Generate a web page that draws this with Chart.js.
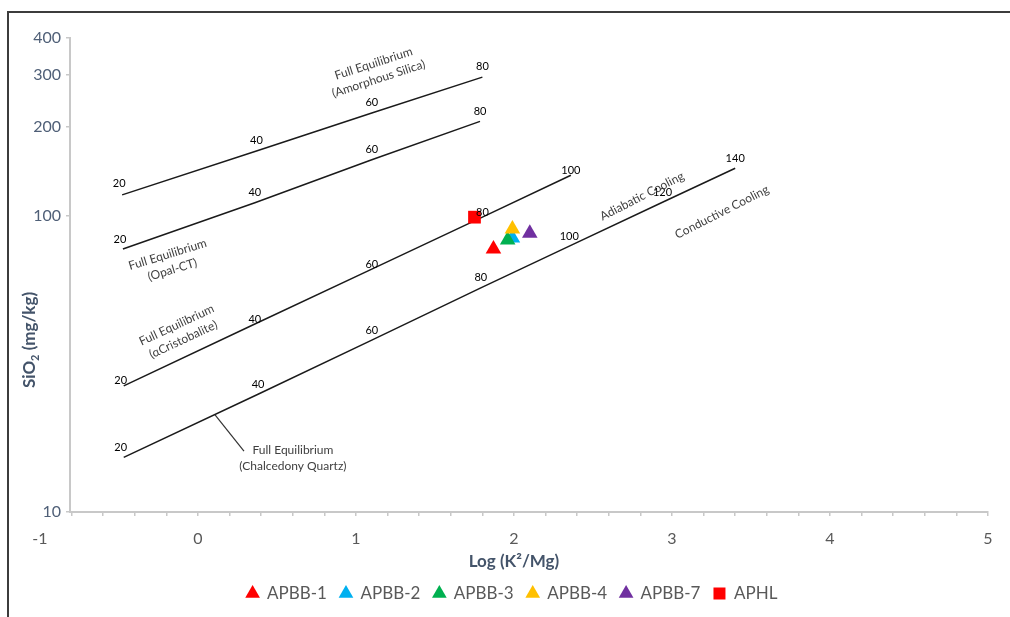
<!DOCTYPE html>
<html>
<head>
<meta charset="utf-8">
<script src="https://cdn.jsdelivr.net/npm/chart.js@4.4.0/dist/chart.umd.min.js"></script>
<style>
  html, body { margin: 0; padding: 0; background: #fff; }
</style>
</head>
<body>
<canvas id="grafico" width="1010" height="617"></canvas>
<script>
// === DATOS ===
// curvas de equilibrio: temperatura (°C), log(K2/Mg), SiO2 (mg/kg)
const amorfoT = [20, 40, 60, 80];
const amorfoX = [-0.48, 0.37, 1.10, 1.80];
const amorfoY = [118, 166, 223, 295];

const opalT = [20, 40, 60, 80];
const opalX = [-0.475, 0.36, 1.10, 1.785];
const opalY = [77.4, 111, 155, 209];

const cristoT = [20, 40, 60, 80, 100];
const cristoX = [-0.47, 0.36, 1.10, 1.80, 2.36];
const cristoY = [26.7, 43.2, 66.2, 99.2, 137.5];

const calceT = [20, 40, 60, 80, 100, 120, 140];
const calceX = [-0.47, 0.38, 1.10, 1.79, 2.35, 2.94, 3.40];
const calceY = [15.3, 25.0, 38.1, 57.2, 79.2, 111.4, 145.2];

// muestras
const muestras = ['APBB-1', 'APBB-2', 'APBB-3', 'APBB-4', 'APBB-7', 'APHL'];
const muestraX = [1.87, 1.99, 1.96, 1.99, 2.10, 1.75];
const muestraY = [77.4, 84.3, 83.0, 90.4, 87.6, 99.2];

// etiquetas de ejes
const xTickLabels = [-1, 0, 1, 2, 3, 4, 5];
const yTickLabels = [10, 100, 200, 300, 400];

// === ESTILOS ===
const coloresMuestra = ['#ff0000', '#00b0f0', '#00b050', '#ffc000', '#7030a0', '#ff0000'];
const formaMuestra = ['triangle', 'triangle', 'triangle', 'triangle', 'triangle', 'rect'];

const curvas = [
  { t: amorfoT, x: amorfoX, y: amorfoY, dy: -11 },
  { t: opalT, x: opalX, y: opalY, dy: -10 },
  { t: cristoT, x: cristoX, y: cristoY, dy: -5 },
  { t: calceT, x: calceX, y: calceY, dy: -10 }
];

// textos sobre el gráfico (posición en unidades de los ejes)
const notas = [
  { lineas: ['Full Equilibrium', '(Amorphous Silica)'], x: 1.127, y: 309, ang: -18 },
  { lineas: ['Full Equilibrium', '(Opal-CT)'], x: -0.177, y: 69.9, ang: -17 },
  { lineas: ['Full Equilibrium', '(αCristobalite)'], x: -0.114, y: 40.5, ang: -25 },
  { lineas: ['Adiabatic Cooling'], x: 2.81, y: 116.8, ang: -27 },
  { lineas: ['Conductive Cooling'], x: 3.316, y: 103.2, ang: -27 },
  { lineas: ['Full Equilibrium', '(Chalcedony Quartz)'], x: 0.601, y: 15.2, ang: 0 }
];
const guia = { x1: 0.108, y1: 21.3, x2: 0.291, y2: 16.07 };

// marcas menores del eje x cada 0.2
const marcasX = [-1];
for (let i = -4; i <= 25; i++) marcasX.push(i / 5);

const FUENTE = 'Lato, "Open Sans", sans-serif';

const datasets = [];
curvas.forEach(cv => {
  datasets.push({
    data: cv.x.map((v, i) => ({ x: v, y: cv.y[i] })),
    showLine: true,
    borderColor: '#1a1a1a',
    borderWidth: 1.5,
    pointRadius: 0,
    order: 100,
    esCurva: true
  });
});
muestras.forEach((nombre, i) => {
  datasets.push({
    label: nombre,
    data: [{ x: muestraX[i], y: muestraY[i] }],
    pointStyle: formaMuestra[i],
    pointRadius: 9,
    backgroundColor: coloresMuestra[i],
    borderColor: coloresMuestra[i],
    borderWidth: 0,
    order: 20 - i
  });
});

// marco, rótulos de temperatura, notas y títulos de ejes
const pluginRotulos = {
  id: 'rotulos',
  afterLayout(chart) {
    // la leyenda va centrada bajo todo el eje x (desde -1)
    if (chart.legend) {
      chart.legend.left += 18;
      chart.legend.right += 18;
    }
  },
  beforeDraw(chart) {
    const c = chart.ctx;
    c.save();
    c.fillStyle = '#fff';
    c.fillRect(0, 0, chart.width, chart.height);
    c.strokeStyle = '#3c3c3c';
    c.lineWidth = 2;
    c.beginPath();
    c.moveTo(8, chart.height);
    c.lineTo(8, 12);
    c.lineTo(chart.width, 12);
    c.stroke();
    c.restore();
  },
  afterDatasetsDraw(chart) {
    const c = chart.ctx, sx = chart.scales.x, sy = chart.scales.y;
    c.save();
    c.textAlign = 'center';
    c.textBaseline = 'middle';

    c.font = '11px ' + FUENTE;
    c.fillStyle = '#000';
    curvas.forEach(cv => {
      cv.t.forEach((t, i) => {
        const px = sx.getPixelForValue(cv.x[i]);
        const py = sy.getPixelForValue(cv.y[i]);
        c.fillText(String(t), px + (i === 0 ? -3 : 0), py + cv.dy);
      });
    });

    c.font = '12px ' + FUENTE;
    c.fillStyle = '#404040';
    notas.forEach(n => {
      c.save();
      c.translate(sx.getPixelForValue(n.x), sy.getPixelForValue(n.y));
      c.rotate(n.ang * Math.PI / 180);
      n.lineas.forEach((txt, j) => {
        c.fillText(txt, 0, (j - (n.lineas.length - 1) / 2) * 16);
      });
      c.restore();
    });

    c.strokeStyle = '#333';
    c.lineWidth = 1.2;
    c.beginPath();
    c.moveTo(sx.getPixelForValue(guia.x1), sy.getPixelForValue(guia.y1));
    c.lineTo(sx.getPixelForValue(guia.x2), sy.getPixelForValue(guia.y2));
    c.stroke();

    // título eje x
    c.fillStyle = '#44546a';
    c.font = 'bold 17px ' + FUENTE;
    c.fillText('Log (K²/Mg)', sx.getPixelForValue(2), 562);

    // título eje y con subíndice
    c.save();
    c.translate(30, 340);
    c.rotate(-Math.PI / 2);
    c.textAlign = 'left';
    const p1 = 'SiO', p3 = ' (mg/kg)';
    c.font = 'bold 17px ' + FUENTE;
    const w1 = c.measureText(p1).width, w3 = c.measureText(p3).width;
    c.font = 'bold 11px ' + FUENTE;
    const w2 = c.measureText('2').width;
    const x0 = -(w1 + w2 + w3) / 2;
    c.font = 'bold 17px ' + FUENTE;
    c.fillText(p1, x0, 0);
    c.font = 'bold 11px ' + FUENTE;
    c.fillText('2', x0 + w1, 5);
    c.font = 'bold 17px ' + FUENTE;
    c.fillText(p3, x0 + w1 + w2, 0);
    c.restore();

    c.restore();
  }
};

new Chart(document.getElementById('grafico'), {
  type: 'scatter',
  data: { datasets },
  options: {
    responsive: false,
    animation: false,
    layout: { padding: { top: 38, right: 22, bottom: 5, left: 0 } },
    plugins: {
      tooltip: { enabled: false },
      legend: {
        position: 'bottom',
        labels: {
          usePointStyle: true,
          boxWidth: 12,
          boxHeight: 12,
          padding: 13,
          color: '#595959',
          font: { family: FUENTE, size: 17 },
          filter: item => !datasets[item.datasetIndex].esCurva,
          sort: (a, b) => a.datasetIndex - b.datasetIndex
        }
      }
    },
    scales: {
      x: {
        type: 'linear',
        min: -0.81,
        max: 5,
        afterBuildTicks: s => { s.ticks = marcasX.map(v => ({ value: v })); },
        afterFit: s => { s.height = 60; },
        ticks: {
          autoSkip: false,
          maxRotation: 0,
          padding: 13,
          color: '#595959',
          font: { family: FUENTE, size: 16 },
          callback: v => (xTickLabels.includes(v) ? String(v) : '')
        },
        grid: {
          drawOnChartArea: false,
          tickLength: 4,
          lineWidth: 1.5,
          color: ctx => (ctx.tick && ctx.tick.value < -0.81 ? 'rgba(0,0,0,0)' : '#c8c8c8')
        },
        border: { color: '#c8c8c8', width: 2 }
      },
      y: {
        type: 'logarithmic',
        min: 10,
        max: 400,
        afterBuildTicks: s => { s.ticks = yTickLabels.map(v => ({ value: v })); },
        afterFit: s => { s.width = 70; },
        ticks: {
          padding: 5,
          color: '#4f5f77',
          font: { family: FUENTE, size: 16 },
          callback: v => String(v)
        },
        grid: { drawOnChartArea: false, tickLength: 4, lineWidth: 1.5, color: '#c8c8c8' },
        border: { color: '#c8c8c8', width: 2 }
      }
    }
  },
  plugins: [pluginRotulos]
});
</script>
</body>
</html>
